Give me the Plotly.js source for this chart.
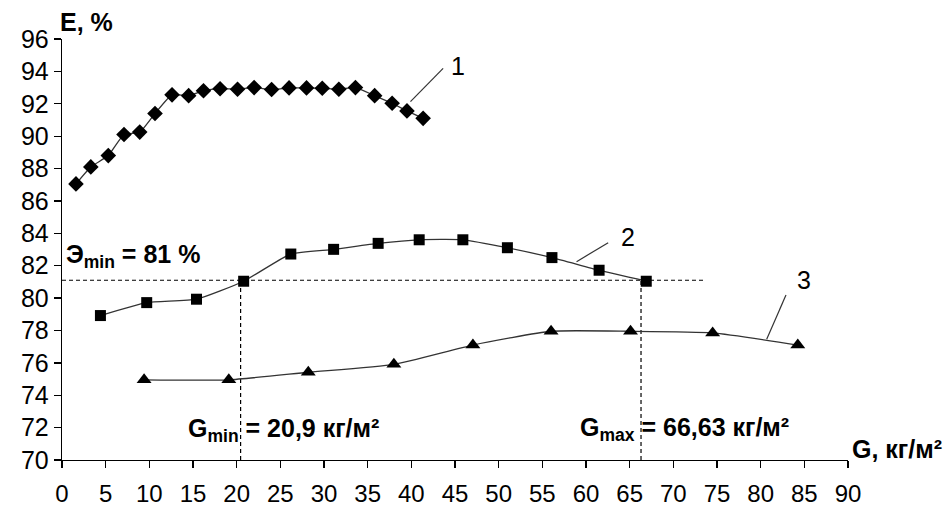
<!DOCTYPE html>
<html>
<head>
<meta charset="utf-8">
<script src="https://cdn.plot.ly/plotly-3.0.1.min.js"></script>
<style>html,body{margin:0;padding:0;background:#fff;}#chart{width:946px;height:510px;}</style>
</head>
<body>
<div id="chart"></div>
<script>
// Series 1 (diamonds)
const s1x = [1.6, 3.3, 5.3, 7.1, 8.9, 10.65, 12.6, 14.5, 16.2, 18.1, 20.1, 22.0, 24.0, 26.0, 28.0, 29.8, 31.7, 33.6, 35.8, 37.8, 39.5, 41.35];
const s1y = [87.05, 88.1, 88.8, 90.1, 90.25, 91.4, 92.55, 92.5, 92.8, 92.93, 92.9, 93.0, 92.88, 92.98, 92.98, 92.96, 92.9, 93.0, 92.5, 92.03, 91.56, 91.1];
// Series 2 (squares)
const s2x = [4.4, 9.7, 15.4, 20.8, 26.2, 31.1, 36.2, 40.9, 45.9, 51.0, 56.1, 61.5, 66.9];
const s2y = [78.92, 79.72, 79.93, 81.04, 82.72, 83.01, 83.38, 83.6, 83.6, 83.11, 82.5, 81.72, 81.04];
// Series 3 (triangles)
const s3x = [9.4, 19.1, 28.2, 38.0, 47.05, 56.0, 65.1, 74.5, 84.25];
const s3y = [74.95, 74.95, 75.42, 75.91, 77.1, 77.95, 77.95, 77.85, 77.1];
// Threshold guide values (as drawn)
const eMinLine = 81.1;
const gMinLine = 20.45;
const gMaxLine = 66.3;
const guideEnd = 73.6;
// Axis ticks
const xTicks = [0,5,10,15,20,25,30,35,40,45,50,55,60,65,70,75,80,85,90];
const yTicks = [70,72,74,76,78,80,82,84,86,88,90,92,94,96];
// Curve labels
const curveLabels = ['1','2','3'];

const FONT = 'Arial, "Liberation Sans", sans-serif';
const lineStyle = {color:'#333', width:1.3};
const mk = (sym, sz) => ({symbol:sym, size:sz, color:'#000', line:{width:0}});

const traces = [
  {x:s1x, y:s1y, mode:'lines+markers', line:Object.assign({shape:'spline', smoothing:0.5}, lineStyle), marker:mk('diamond', 12), cliponaxis:false},
  {x:s2x, y:s2y, mode:'lines+markers', line:Object.assign({shape:'spline', smoothing:0.5}, lineStyle), marker:mk('square', 11), cliponaxis:false},
  {x:s3x, y:s3y, mode:'lines+markers', line:Object.assign({shape:'spline', smoothing:0.5}, lineStyle), marker:mk('triangle-up', 13), cliponaxis:false}
];

const dash = {color:'#000', width:1.2, dash:'4px,3px'};
const shapes = [
  {type:'line', xref:'x', yref:'y', x0:0, x1:guideEnd, y0:eMinLine, y1:eMinLine, line:dash, layer:'below'},
  {type:'line', xref:'x', yref:'y', x0:gMinLine, x1:gMinLine, y0:70, y1:eMinLine, line:dash, layer:'below'},
  {type:'line', xref:'x', yref:'y', x0:gMaxLine, x1:gMaxLine, y0:70, y1:eMinLine, line:dash, layer:'below'},
  // leader lines for curve numbers
  {type:'line', xref:'x', yref:'y', x0:39.9, y0:92.13, x1:43.64, y1:94.19, line:{color:'#333', width:1.2}},
  {type:'line', xref:'x', yref:'y', x0:58.92, y0:82.25, x1:62.54, y1:83.42, line:{color:'#333', width:1.2}},
  {type:'line', xref:'x', yref:'y', x0:80.69, y0:77.46, x1:82.9, y1:80.19, line:{color:'#333', width:1.2}}
];

const bold = {family:FONT, size:25, color:'#000'};
const reg = {family:FONT, size:25, color:'#000'};
const annotations = [
  {x:44.3, y:94.35, xref:'x', yref:'y', text:curveLabels[0], showarrow:false, xanchor:'left', yanchor:'middle', font:reg},
  {x:63.8, y:83.8, xref:'x', yref:'y', text:curveLabels[1], showarrow:false, xanchor:'left', yanchor:'middle', font:reg},
  {x:83.9, y:81.1, xref:'x', yref:'y', text:curveLabels[2], showarrow:false, xanchor:'left', yanchor:'middle', font:reg},
  {x:0.2, y:82.6, xref:'x', yref:'y', text:'<b>Э<sub>min</sub> = 81 %</b>', showarrow:false, xanchor:'left', yanchor:'middle', font:bold},
  {x:14.2, y:71.85, xref:'x', yref:'y', text:'<b>G<sub>min</sub> = 20,9 кг/м²</b>', showarrow:false, xanchor:'left', yanchor:'middle', font:bold},
  {x:59.1, y:71.9, xref:'x', yref:'y', text:'<b>G<sub>max</sub> = 66,63 кг/м²</b>', showarrow:false, xanchor:'left', yanchor:'middle', font:bold},
  {x:1.003, y:0.026, xref:'paper', yref:'paper', text:'<b>G, кг/м²</b>', showarrow:false, xanchor:'left', yanchor:'middle', font:bold},
  {x:-0.005, y:1.04, xref:'paper', yref:'paper', text:'<b>E, %</b>', showarrow:false, xanchor:'left', yanchor:'middle', font:bold}
];

const layout = {
  width:946, height:510,
  margin:{l:62, r:98, t:39, b:50, pad:0},
  paper_bgcolor:'#fff', plot_bgcolor:'#fff',
  showlegend:false,
  font:{family:FONT, color:'#000'},
  xaxis:{range:[0,90], tickvals:xTicks, ticktext:xTicks.map(String), showgrid:false, zeroline:false,
         showline:true, linecolor:'#000', linewidth:1.3, ticks:'outside', ticklen:7, tickcolor:'#000', tickwidth:1.3,
         ticklabelstandoff:5,
         tickfont:{family:FONT, size:24, color:'#000'}, fixedrange:true},
  yaxis:{range:[70,96], tickvals:yTicks, ticktext:yTicks.map(String), showgrid:false, zeroline:false,
         showline:true, linecolor:'#000', linewidth:1.3, ticks:'outside', ticklen:7, tickcolor:'#000', tickwidth:1.3,
         tickfont:{family:FONT, size:25, color:'#000'}, fixedrange:true},
  shapes:shapes,
  annotations:annotations
};

Plotly.newPlot('chart', traces, layout, {displayModeBar:false, staticPlot:true});
</script>
</body>
</html>
